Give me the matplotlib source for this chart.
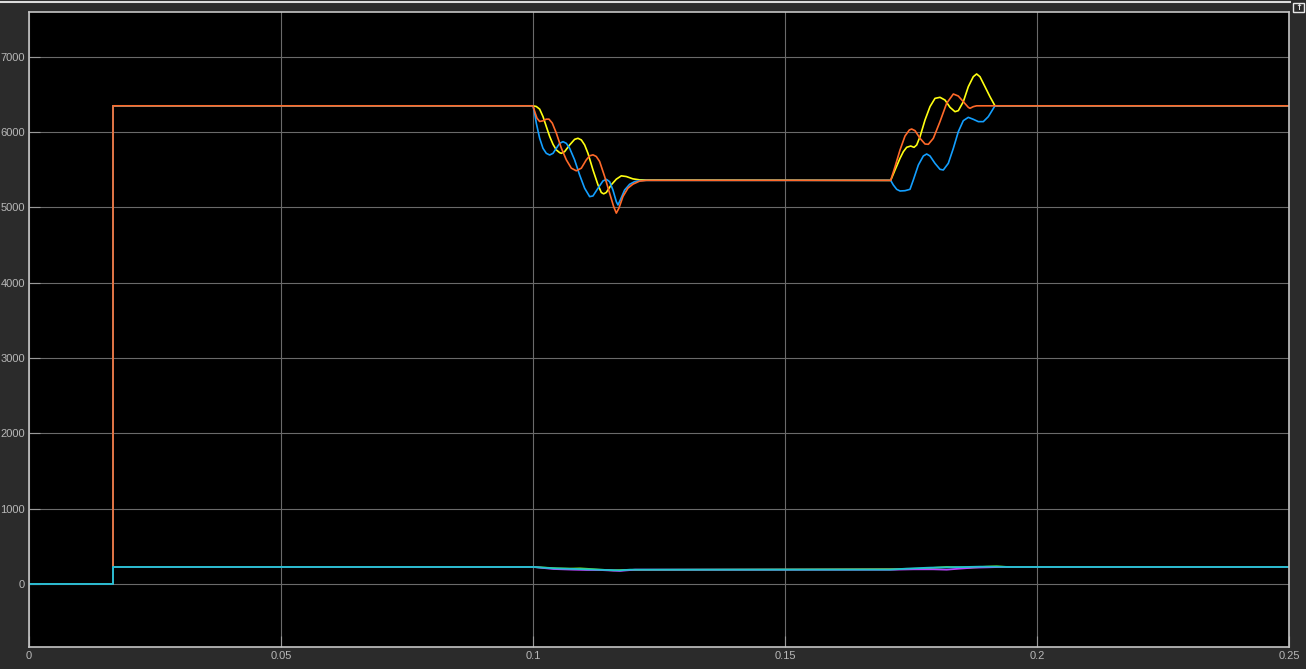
import numpy as np
import matplotlib
matplotlib.use("Agg")
import matplotlib.pyplot as plt
from matplotlib.lines import Line2D

# upper group (speed-like signals)
t_step = 0.01667
hi, lo = 6350, 5360

# first transition 0.1 -> ~0.125
t1_yel = [0.1000, 0.10066, 0.10132, 0.10198, 0.10264, 0.10331, 0.10397, 0.10463, 0.10529, 0.10562,
          0.10628, 0.10727, 0.10826, 0.10892, 0.10959, 0.11025, 0.11091, 0.11190, 0.11289, 0.11355,
          0.11402, 0.11454, 0.11553, 0.11653, 0.11752, 0.11851, 0.11983, 0.12115]
v1_yel = [6350, 6341, 6306, 6208, 6075, 5943, 5839, 5764, 5728, 5719,
          5742, 5830, 5905, 5919, 5897, 5830, 5719, 5498, 5301, 5199,
          5181, 5199, 5301, 5376, 5420, 5411, 5380, 5367]

t1_blu = [0.1000, 0.10033, 0.10066, 0.10132, 0.10198, 0.10264, 0.10331, 0.10397, 0.10463, 0.10529,
          0.10595, 0.10661, 0.10727, 0.10826, 0.10925, 0.11025, 0.11124, 0.11190, 0.11289, 0.11388,
          0.11454, 0.11520, 0.11586, 0.11653, 0.11686, 0.11732, 0.11818, 0.11917, 0.12016, 0.12115,
          0.12247]
v1_blu = [6350, 6251, 6118, 5919, 5786, 5719, 5697, 5719, 5786, 5852,
          5874, 5852, 5786, 5631, 5432, 5255, 5144, 5153, 5255, 5352,
          5374, 5343, 5232, 5077, 5033, 5099, 5232, 5308, 5343, 5356,
          5360]

t1_ora = [0.1000, 0.10033, 0.10079, 0.10132, 0.10198, 0.10264, 0.10317, 0.10383, 0.10463, 0.10562,
          0.10661, 0.10760, 0.10859, 0.10959, 0.11058, 0.11124, 0.11190, 0.11256, 0.11322, 0.11421,
          0.11520, 0.11600, 0.11653, 0.11705, 0.11785, 0.11884, 0.11983, 0.12115, 0.12247]
v1_ora = [6350, 6275, 6186, 6142, 6151, 6173, 6173, 6120, 5987, 5788,
          5633, 5522, 5487, 5522, 5633, 5686, 5699, 5677, 5611, 5412,
          5190, 5013, 4925, 4991, 5146, 5257, 5310, 5350, 5360]

# second transition 0.171 -> ~0.192
t2_yel = [0.17097, 0.17183, 0.17282, 0.17348, 0.17414, 0.17494, 0.17560, 0.17613, 0.17679, 0.17778,
          0.17877, 0.17976, 0.18075, 0.18174, 0.18274, 0.18373, 0.18439, 0.18538, 0.18637, 0.18736,
          0.18802, 0.18868, 0.18968, 0.19067, 0.19166]
v2_yel = [5360, 5498, 5653, 5741, 5799, 5816, 5799, 5830, 5940, 6162,
          6339, 6449, 6463, 6427, 6330, 6272, 6286, 6405, 6604, 6737,
          6773, 6737, 6604, 6471, 6350]

t2_blu = [0.17097, 0.17150, 0.17216, 0.17282, 0.17381, 0.17480, 0.17546, 0.17646, 0.17745, 0.17811,
          0.17877, 0.17976, 0.18075, 0.18141, 0.18240, 0.18340, 0.18439, 0.18538, 0.18637, 0.18736,
          0.18836, 0.18935, 0.19034, 0.19166]
v2_blu = [5360, 5298, 5241, 5219, 5223, 5241, 5365, 5564, 5684, 5710,
          5684, 5586, 5507, 5498, 5586, 5785, 6007, 6153, 6197, 6171,
          6140, 6140, 6206, 6350]

t2_ora = [0.17097, 0.17183, 0.17282, 0.17381, 0.17467, 0.17513, 0.17580, 0.17679, 0.17778, 0.17844,
          0.17943, 0.18075, 0.18207, 0.18340, 0.18439, 0.18538, 0.18637, 0.18670, 0.18736, 0.18802]
v2_ora = [5360, 5542, 5763, 5949, 6029, 6042, 6020, 5918, 5843, 5839,
          5918, 6140, 6383, 6507, 6480, 6405, 6330, 6317, 6339, 6350]

# lower group (small signals near 200)
b_hi = 226
t1_cya = [0.10006, 0.10403, 0.11065, 0.11462, 0.11726, 0.11925, 0.12123]
v1_cya = [226, 208, 195, 186, 181, 190, 190]
t1_pur = [0.10139, 0.10403, 0.10800, 0.11065, 0.11329, 0.11594, 0.11726, 0.11859, 0.12024]
v1_pur = [217, 199, 190, 186, 186, 177, 173, 181, 190]
t1_grn = [0.10139, 0.10470, 0.10734, 0.10933, 0.11131, 0.11329, 0.11594, 0.11792]
v1_grn = [221, 208, 204, 208, 199, 190, 181, 186]

t2_cya = [0.17083, 0.17414, 0.17877, 0.18208, 0.18604, 0.18869, 0.19134, 0.19464]
v2_cya = [190, 204, 217, 221, 226, 230, 230, 226]
t2_pur = [0.17150, 0.17546, 0.17943, 0.18208, 0.18472, 0.18737, 0.19001, 0.19266]
v2_pur = [190, 195, 195, 190, 204, 217, 221, 226]
t2_grn = [0.17414, 0.17745, 0.18009, 0.18208, 0.18406, 0.18671, 0.19001, 0.19200, 0.19398]
v2_grn = [199, 204, 217, 226, 221, 217, 230, 235, 226]

yticks = [0, 1000, 2000, 3000, 4000, 5000, 6000, 7000]
xticks = [0, 0.05, 0.1, 0.15, 0.2, 0.25]
xlabels = ["0", "0.05", "0.1", "0.15", "0.2", "0.25"]


def full(level_hi, ta, va, tb, vb):
    # zero -> step -> first transition -> flat -> second transition -> flat
    t = [0, t_step, t_step] + ta + tb + [0.25]
    v = [0, 0, level_hi] + va + vb + [level_hi]
    return t, v


fig = plt.figure(figsize=(13.06, 6.69), dpi=100, facecolor="#2b2b2b")
ax = fig.add_axes([29 / 1306, 1 - 647 / 669, 1260 / 1306, 635 / 669], facecolor="black")

for c, ta, va, tb, vb in [("#ffff11", t1_yel, v1_yel, t2_yel, v2_yel),
                          ("#139fff", t1_blu, v1_blu, t2_blu, v2_blu),
                          ("#ff6929", t1_ora, v1_ora, t2_ora, v2_ora)]:
    t, v = full(hi, ta, va, tb, vb)
    ax.plot(t, v, color=c, lw=1.2, solid_joinstyle="round")

# bottom group drawn last so cyan hides the orange zero segment
for c, ta, va, tb, vb in [("#64d413", t1_grn, v1_grn, t2_grn, v2_grn),
                          ("#b746ff", t1_pur, v1_pur, t2_pur, v2_pur),
                          ("#1fc4cc", t1_cya, v1_cya, t2_cya, v2_cya)]:
    t, v = full(b_hi, [0.1] + ta, [b_hi] + va, tb, vb)
    ax.plot(t, v, color=c, lw=1.3, solid_joinstyle="round")

ax.set_xlim(0, 0.25)
ax.set_ylim(-837, 7596)
ax.set_xticks(xticks)
ax.set_xticklabels(xlabels)
ax.set_yticks(yticks)
ax.grid(True, color="#6a6a6a", lw=0.8)
ax.tick_params(direction="in", length=8, color="#9a9a9a", labelcolor="#b8b8b8",
               labelsize=8, pad=3)
for lab in ax.get_xticklabels() + ax.get_yticklabels():
    lab.set_family("Liberation Sans")
for s in ax.spines.values():
    s.set_color("#c4c4c4")
    s.set_linewidth(1.2)

# top border line and the little undock icon
fig.add_artist(Line2D([0, 1290 / 1306], [1 - 1.5 / 669] * 2, color="#dcdcdc", lw=1.5))
fig.add_artist(plt.Rectangle((1293 / 1306, 1 - 12 / 669), 11 / 1306, 9 / 669,
                             fill=False, ec="#e8e8e8", lw=1))
fig.text(1298.5 / 1306, 1 - 8 / 669, "↑", color="#e8e8e8", fontsize=6,
         ha="center", va="center", family="DejaVu Sans", weight="bold")

fig.savefig("out.png", dpi=100, facecolor=fig.get_facecolor())
